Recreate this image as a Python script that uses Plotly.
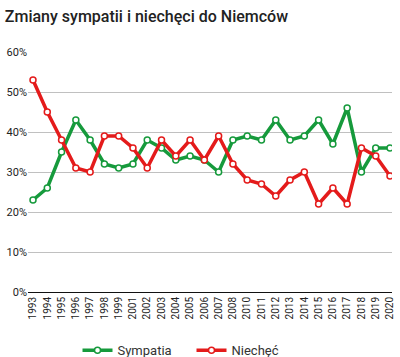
import plotly.graph_objects as go

years = ["1993","1994","1995","1996","1997","1998","1999","2001","2002","2003","2004","2005","2006","2007","2008","2010","2011","2012","2013","2014","2015","2016","2017","2018","2019","2020"]
sympatia = [23,26,35,43,38,32,31,32,38,36,33,34,33,30,38,39,38,43,38,39,43,37,46,30,36,36]
niechec = [53,45,38,31,30,39,39,36,31,38,34,38,33,39,32,28,27,24,28,30,22,26,22,36,34,29]
yticks = [0,10,20,30,40,50,60]

green = "#169a3c"
red = "#e41b1b"

fig = go.Figure()
fig.add_trace(go.Scatter(x=years, y=sympatia, name="Sympatia", mode="lines+markers",
                         line=dict(color=green, width=3.5),
                         marker=dict(symbol="circle", size=6, color="white", line=dict(color=green, width=1.5))))
fig.add_trace(go.Scatter(x=years, y=niechec, name="Niechęć", mode="lines+markers",
                         line=dict(color=red, width=3.5),
                         marker=dict(symbol="circle", size=6, color="white", line=dict(color=red, width=1.5))))

fig.update_layout(
    width=400, height=357,
    margin=dict(l=28, r=8, t=52, b=65, autoexpand=False),
    paper_bgcolor="white", plot_bgcolor="white",
    font=dict(family="Roboto", size=11, color="#222"),
    title=dict(text="Zmiany sympatii i niechęci do Niemców", x=0.012, xanchor="left",
               y=0.955, yanchor="middle", font=dict(family="Roboto", size=16, color="#222", weight=500)),
    showlegend=True,
    legend=dict(orientation="h", x=0.136, xanchor="left", y=-0.18, yanchor="top",
                font=dict(size=13, color="#333"), itemwidth=30, tracegroupgap=0,
                entrywidth=69, entrywidthmode="pixels"),
    xaxis=dict(type="category", range=[-0.35, 25.14], tickangle=-90, showgrid=False, automargin=False,
               showline=True, linecolor="#111", linewidth=1, ticks="", tickfont=dict(size=10, color="#222")),
    yaxis=dict(range=[0, 60], tickvals=yticks, ticktext=[f"{v}%" for v in yticks], automargin=False,
               showgrid=True, gridcolor="#c0c0c0", gridwidth=1, zeroline=False,
               ticks="", ticklabelstandoff=0, tickfont=dict(size=11, color="#222")),
)
fig.write_html("out.html", config={"displayModeBar": False},
               post_script="document.body.style.margin='0';")
